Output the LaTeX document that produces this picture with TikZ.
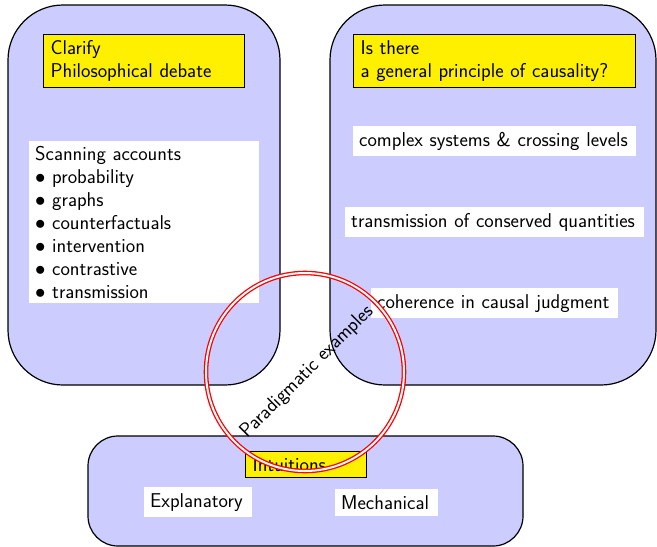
\documentclass[tikz,border=0pt]{standalone}
\definecolor{boxblue}{RGB}{204,204,255}
\definecolor{hilite}{RGB}{255,240,0}
\tikzset{
  bigbox/.style={draw=black, line width=1.2pt, fill=boxblue, inner sep=0pt},
  titlebox/.style={draw=black, line width=1.2pt, fill=hilite, inner xsep=7pt, inner ysep=0pt, align=left, anchor=north west},
  whitebox/.style={fill=white, inner xsep=6pt, inner ysep=0pt, anchor=north west, align=left},
}
\begin{document}
\begin{tikzpicture}[x=1pt,y=-1pt, font=\sffamily\fontsize{20}{23}\selectfont]
\useasboundingbox (0,0) rectangle (657,547);
% big boxes
\node[bigbox, rounded corners=55pt, minimum width=272pt, minimum height=380pt] (left) at (144,195) {};
\node[bigbox, rounded corners=55pt, minimum width=326pt, minimum height=380pt] (right) at (493,195) {};
\node[bigbox, rounded corners=30pt, minimum width=435pt, minimum height=110pt] (bottom) at (305.5,491) {};
% titles
\node[titlebox, text width=187pt, minimum height=53pt] (clarify) at (43,34) {Clarify\\Philosophical debate};
\node[titlebox, text width=268pt, minimum height=53pt] (general) at (353,34) {Is there\\a general principle of causality?};
% scanning
\node[whitebox, text width=218pt, minimum height=162pt] (scan) at (29,141)
  {Scanning accounts\\$\bullet$ probability\\$\bullet$ graphs\\$\bullet$ counterfactuals\\$\bullet$ intervention\\$\bullet$ contrastive\\$\bullet$ transmission};
% right items
\node[whitebox, text width=271pt, minimum height=30pt] (complex) at (353,126) {complex systems \& crossing levels};
\node[whitebox, text width=287pt, minimum height=30pt] (transm) at (345,207) {transmission of conserved quantities};
\node[whitebox, text width=235pt, minimum height=30pt] (coher) at (371,288) {coherence in causal judgment};
% bottom items
\node[titlebox, text width=107pt, minimum height=26pt] (intu) at (245,451) {Intuitions};
\node[whitebox, text width=96pt, minimum height=30pt, inner xsep=6pt] (expl) at (144,487) {Explanatory};
\node[whitebox, text width=91pt, minimum height=27pt, inner xsep=6pt] (mech) at (335,489) {Mechanical};
% circle
\node[draw=red, double, double distance=2pt, line width=1.3pt, circle, minimum size=198pt, inner sep=0pt] (para) at (305,372) {};
\node[rotate=45, inner sep=0pt] (paratext) at (307,372) {Paradigmatic examples};
\end{tikzpicture}
\end{document}
